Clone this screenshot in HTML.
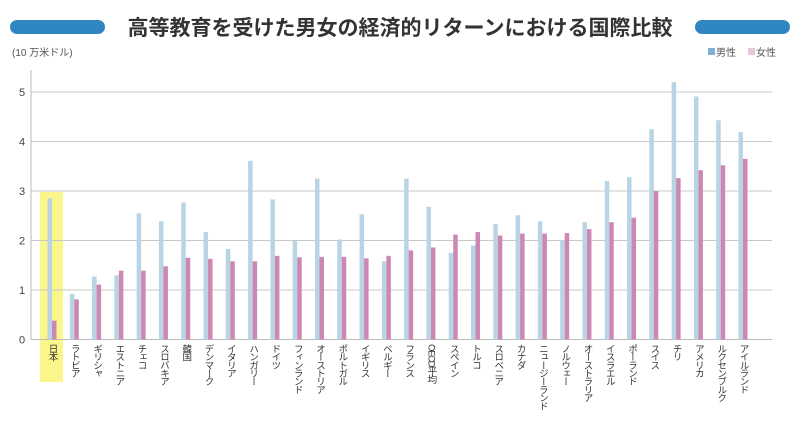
<!DOCTYPE html>
<html><head><meta charset="utf-8"><style>
body{margin:0;background:#fff;width:800px;height:419px;overflow:hidden;font-family:"Liberation Sans","Noto Sans CJK JP",sans-serif;}
svg text{font-family:"Liberation Sans","Noto Sans CJK JP",sans-serif;}
</style></head><body>
<svg id="chart" width="800" height="419">
<rect x="10" y="20" width="95" height="14" rx="7" fill="#2f86c0"/>
<rect x="695" y="20" width="95" height="14" rx="7" fill="#2f86c0"/>
<text x="400" y="35" text-anchor="middle" font-size="21" font-weight="bold" fill="#333">高等教育を受けた男女の経済的リターンにおける国際比較</text>
<text x="12" y="56" font-size="10" fill="#555">(10 万米ドル)</text>
<g>
<rect x="708" y="48" width="7" height="7" fill="#7eaed0"/>
<text x="716" y="56" font-size="10" fill="#555">男性</text>
<rect x="748" y="48" width="7" height="7" fill="#e8c6da"/>
<text x="756" y="56" font-size="10" fill="#555">女性</text>
</g>
<g id="plot"></g>
</svg>
<script>
const categories=["日本","ラトビア","ギリシャ","エストニア","チェコ","スロバキア","韓国","デンマーク","イタリア","ハンガリー","ドイツ","フィンランド","オーストリア","ポルトガル","イギリス","ベルギー","フランス","OECD平均","スペイン","トルコ","スロベニア","カナダ","ニュージーランド","ノルウェー","オーストラリア","イスラエル","ポーランド","スイス","チリ","アメリカ","ルクセンブルク","アイルランド"];
const maleValues=[2.85,0.92,1.27,1.30,2.55,2.39,2.77,2.17,1.83,3.61,2.83,1.99,3.25,2.02,2.53,1.58,3.25,2.68,1.75,1.90,2.33,2.51,2.39,2.00,2.37,3.20,3.28,4.25,5.20,4.91,4.43,4.19];
const femaleValues=[0.38,0.81,1.11,1.39,1.39,1.48,1.65,1.63,1.58,1.58,1.69,1.66,1.67,1.67,1.64,1.69,1.80,1.86,2.12,2.17,2.10,2.14,2.14,2.15,2.23,2.37,2.46,3.00,3.26,3.42,3.52,3.65];
const yTicks=[0,1,2,3,4,5];
const NS="http://www.w3.org/2000/svg";
const plot=document.getElementById('plot');
const left=31,right=772,y0=339.5,unit=49.5;
const yScale=v=>y0-v*unit;
const xCenter=i=>52+i*(743-52)/(categories.length-1);
function mk(tag,attrs){const e=document.createElementNS(NS,tag);for(const k in attrs)e.setAttribute(k,attrs[k]);plot.appendChild(e);return e;}
const hl=mk('rect',{x:xCenter(0)-12,y:yScale(3)+1,width:23,height:381-yScale(3),fill:'#fbf68c'});


yTicks.forEach(t=>{
  const y=yScale(t);
  if(t>0){const g=mk('line',{x1:left,x2:right,y1:y,y2:y,stroke:'#c8c8c8','stroke-width':1});
  
  }
  const l=mk('text',{x:22,y:y+4,'text-anchor':'middle','font-size':11,fill:'#444'});l.textContent=t;
  
  
});
const ax=mk('line',{x1:left,x2:left,y1:70,y2:y0,stroke:'#bbb','stroke-width':1});


const bx=mk('line',{x1:left,x2:right,y1:y0,y2:y0,stroke:'#bbb','stroke-width':1});


categories.forEach((c,i)=>{
  const cx=xCenter(i);
  const m=mk('rect',{x:cx-4.5,y:yScale(maleValues[i]),width:4.5,height:maleValues[i]*unit,fill:'#b9d4e4'});
  
  
  const f=mk('rect',{x:cx,y:yScale(femaleValues[i]),width:4.5,height:femaleValues[i]*unit,fill:'#cc88b3'});
  
  
  const t=mk('text',{x:cx,y:344,'font-size':9.5,'letter-spacing':-1.3,fill:'#333','writing-mode':'vertical-rl','glyph-orientation-vertical':0});
  t.textContent=c;
  
  
});
</script>
</body></html>
